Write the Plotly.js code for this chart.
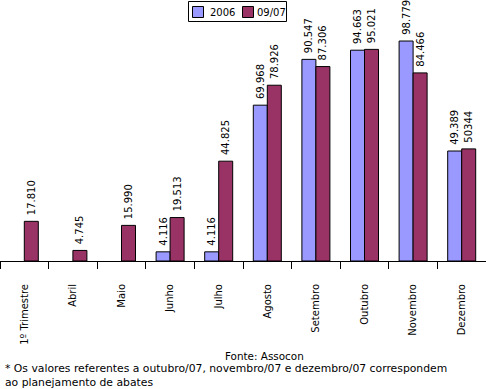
<!DOCTYPE html>
<html>
<head>
<meta charset="utf-8">
<script src="https://cdn.plot.ly/plotly-3.0.1.min.js"></script>
<style>html,body{margin:0;padding:0;background:#fff;}#chart{width:486px;height:389px;}</style>
</head>
<body>
<div id="chart"></div>
<script>
const categories = ["1º Trimestre", "Abril", "Maio", "Junho", "Julho", "Agosto", "Setembro", "Outubro", "Novembro", "Dezembro"];
const seriesNames = ["2006", "09/07"];
const seriesColors = ["#9999FF", "#993366"];
const values2006 = [null, null, null, 4.116, 4.116, 69.968, 90.547, 94.663, 98.779, 49.389];
const labels2006 = ["", "", "", "4.116", "4.116", "69.968", "90.547", "94.663", "98.779", "49.389"];
const values0907 = [17.810, 4.745, 15.990, 19.513, 44.825, 78.926, 87.306, 95.021, 84.466, 50.344];
const labels0907 = ["17.810", "4.745", "15.990", "19.513", "44.825", "78.926", "87.306", "95.021", "84.466", "50344"];

const font = {family: "DejaVu Sans, Verdana, sans-serif", size: 10, color: "#000"};

const W = 486, H = 389, B = 128, PH = H - B;
const px = x => x / W;
const py = y => (PH - y) / PH;

const traces = [
  {type: "bar", name: seriesNames[0], x: categories, y: values2006, text: labels2006,
   texttemplate: "\u00A0%{text}",
   textposition: "outside", textangle: -90, constraintext: "none", cliponaxis: false,
   textfont: font, marker: {color: seriesColors[0], line: {color: "#000", width: 1}}},
  {type: "bar", name: seriesNames[1], x: categories, y: values0907, text: labels0907,
   texttemplate: "\u00A0%{text}",
   textposition: "outside", textangle: -90, constraintext: "none", cliponaxis: false,
   textfont: font, marker: {color: seriesColors[1], line: {color: "#000", width: 1}}}
];

// Hand-built legend box (compact, like the reference)
const shapes = [
  {type: "rect", xref: "paper", yref: "paper", x0: px(188.5), x1: px(286.5), y0: py(21.5), y1: py(1.5),
   line: {color: "#000", width: 1}, fillcolor: "#fff", layer: "above"},
  {type: "rect", xref: "paper", yref: "paper", x0: px(192.5), x1: px(203.5), y0: py(17.5), y1: py(6.5),
   line: {color: "#000", width: 1}, fillcolor: seriesColors[0], layer: "above"},
  {type: "rect", xref: "paper", yref: "paper", x0: px(242.5), x1: px(253.5), y0: py(17.5), y1: py(6.5),
   line: {color: "#000", width: 1}, fillcolor: seriesColors[1], layer: "above"}
];

const layout = {
  width: W, height: H,
  margin: {l: 0, r: 0, t: 0, b: B, pad: 0},
  paper_bgcolor: "#fff", plot_bgcolor: "#fff",
  font: font,
  barmode: "group", bargap: 0.424, bargroupgap: 0,
  showlegend: false,
  xaxis: {type: "category", showline: true, linecolor: "#000", linewidth: 1,
          ticks: "outside", ticklen: 7, tickcolor: "#000", tickson: "boundaries",
          tickangle: -90, tickfont: font, showgrid: false, zeroline: false,
          ticklabelstandoff: 18},
  yaxis: {range: [0, 117.2], visible: false, showgrid: false, zeroline: false},
  shapes: shapes,
  annotations: [
    {xref: "paper", yref: "paper", x: px(207.5), y: py(12), xanchor: "left", yanchor: "middle",
     text: seriesNames[0], showarrow: false, font: font},
    {xref: "paper", yref: "paper", x: px(254.5), y: py(12), xanchor: "left", yanchor: "middle",
     text: seriesNames[1], showarrow: false, font: font},
    {xref: "paper", yref: "paper", x: px(264), y: py(356), xanchor: "center", yanchor: "middle",
     text: "Fonte: Assocon", showarrow: false, font: Object.assign({}, font, {size: 10.4})},
    {xref: "paper", yref: "paper", x: px(3), y: py(360), xanchor: "left", yanchor: "top",
     align: "left", showarrow: false, font: Object.assign({}, font, {size: 10.8}),
     text: "* Os valores referentes a outubro/07, novembro/07 e dezembro/07 correspondem<br>ao planejamento de abates"}
  ]
};

Plotly.newPlot("chart", traces, layout, {displayModeBar: false, staticPlot: true});
</script>
</body>
</html>
